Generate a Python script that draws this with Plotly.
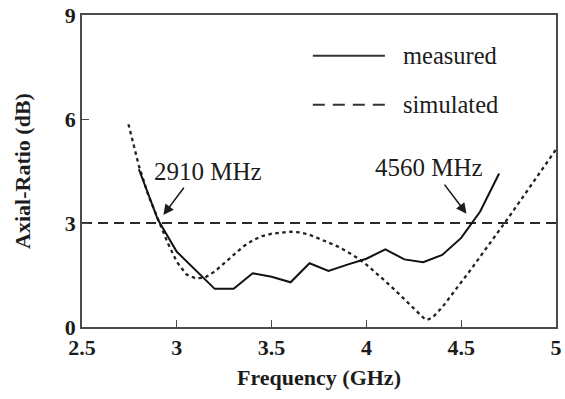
import plotly.graph_objects as go

# Measured axial ratio (dB) versus frequency (GHz)
freq_meas = [2.8, 2.9, 3.0, 3.1, 3.2, 3.3, 3.4, 3.5, 3.6, 3.7,
             3.8, 3.9, 4.0, 4.1, 4.2, 4.3, 4.4, 4.5, 4.6, 4.7]
ar_meas = [4.55, 3.10, 2.17, 1.63, 1.10, 1.10, 1.55, 1.45, 1.29, 1.84,
           1.62, 1.80, 1.97, 2.24, 1.95, 1.87, 2.08, 2.57, 3.33, 4.43]

# Simulated axial ratio (dB)
freq_sim = [2.745, 2.8, 2.85, 2.9, 2.95, 3.0, 3.05, 3.1, 3.15, 3.2,
            3.25, 3.3, 3.35, 3.4, 3.45, 3.5, 3.55, 3.6, 3.65, 3.7,
            3.75, 3.8, 3.85, 3.9, 3.95, 4.0, 4.05, 4.1, 4.15, 4.2,
            4.25, 4.3, 4.32, 4.35, 4.4, 4.45, 4.5, 4.55, 4.6, 4.65,
            4.7, 4.75, 4.8, 4.85, 4.9, 4.95, 5.0]
ar_sim = [5.85, 4.65, 3.80, 3.12, 2.45, 1.88, 1.52, 1.40, 1.43, 1.60,
          1.84, 2.10, 2.32, 2.50, 2.62, 2.69, 2.73, 2.75, 2.73, 2.66,
          2.55, 2.43, 2.32, 2.17, 2.00, 1.80, 1.57, 1.32, 1.07, 0.80,
          0.53, 0.27, 0.20, 0.28, 0.57, 0.92, 1.28, 1.65, 2.03, 2.40,
          2.78, 3.16, 3.55, 3.94, 4.33, 4.73, 5.12]

# 3-dB axial-ratio limit
ar_limit = 3.0
freq_range = [2.5, 5.0]

# Band-edge markers: (frequency GHz, label)
band_edges = [(2.91, "2910 MHz"), (4.56, "4560 MHz")]

x_ticks = [2.5, 3, 3.5, 4, 4.5, 5]
x_tick_text = ["2.5", "3", "3.5", "4", "4.5", "5"]
y_ticks = [0, 3, 6, 9]

SERIF = "Liberation Serif, Times New Roman, serif"
INK = "#1c1c1c"

fig = go.Figure()

fig.add_trace(go.Scatter(
    x=freq_range, y=[ar_limit, ar_limit], mode="lines",
    line=dict(color="#2a2a2a", width=2, dash="10px,6px"),
    showlegend=False, hoverinfo="skip"))

fig.add_trace(go.Scatter(
    x=freq_sim, y=ar_sim, mode="lines", name="simulated",
    line=dict(color="#222222", width=2.3, dash="3.5px,3.5px"),
    showlegend=False))

fig.add_trace(go.Scatter(
    x=freq_meas, y=ar_meas, mode="lines", name="measured",
    line=dict(color="#111111", width=2),
    showlegend=False))

# Legend drawn as paper-space line samples with labels
legend_rows = [("measured", "solid", 0.869), ("simulated", "12px,8px", 0.712)]
for label, dash, yp in legend_rows:
    fig.add_shape(type="line", xref="paper", yref="paper",
                  x0=0.487, x1=0.639, y0=yp, y1=yp,
                  line=dict(color="#333333", width=2, dash=dash))
    fig.add_annotation(xref="paper", yref="paper", x=0.673, y=yp,
                       text=label, showarrow=False, xanchor="left",
                       yanchor="middle",
                       font=dict(family=SERIF, size=24.5, color=INK))

# Arrow annotations pointing at the 3-dB crossings
arrow_specs = [
    (band_edges[0], 2.929, 3.23, 3.043, 4.06, 3.162, 4.48),
    (band_edges[1], 4.528, 3.27, 4.406, 4.15, 4.33, 4.6),
]
for (f, label), xt, yt, xa, ya, xl, yl in arrow_specs:
    fig.add_annotation(x=xt, y=yt, ax=xa, ay=ya, xref="x", yref="y",
                       axref="x", ayref="y", text="", showarrow=True,
                       arrowhead=2, arrowsize=1.3, arrowwidth=1.6,
                       arrowcolor="#1c1c1c", standoff=0, startstandoff=0)
    fig.add_annotation(x=xl, y=yl, xref="x", yref="y", text=label,
                       showarrow=False, xanchor="center", yanchor="middle",
                       font=dict(family=SERIF, size=25, color=INK))

axis_common = dict(
    showline=True, linecolor="#4a4a4a", linewidth=1.6, mirror=True,
    ticks="inside", ticklen=7, tickwidth=1.3, tickcolor="#4a4a4a",
    showgrid=False, zeroline=False,
    tickfont=dict(family=SERIF, size=22, color=INK, weight="bold"),
)

fig.update_xaxes(range=freq_range, tickvals=x_ticks, ticktext=x_tick_text,
                 title=dict(text="Frequency (GHz)", standoff=10,
                            font=dict(family=SERIF, size=22, color=INK,
                                      weight="bold")),
                 **axis_common)
fig.update_yaxes(range=[0, 9], tickvals=y_ticks,
                 title=dict(text="Axial-Ratio (dB)", standoff=28,
                            font=dict(family=SERIF, size=22, color=INK,
                                      weight="bold")),
                 **axis_common)

fig.update_layout(
    width=565, height=399,
    margin=dict(l=82, r=9, t=15, b=72, autoexpand=False),
    plot_bgcolor="white", paper_bgcolor="white",
    showlegend=False,
)

fig.write_html("out.html")
